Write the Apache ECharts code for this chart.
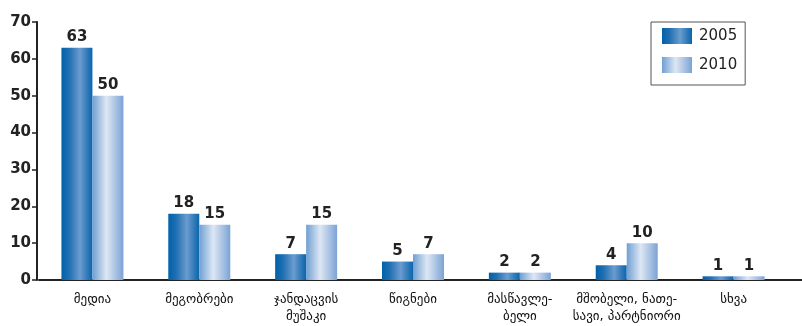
<!DOCTYPE html>
<html><head><meta charset="utf-8">
<script src="https://cdn.jsdelivr.net/npm/echarts@6/dist/echarts.min.js"></script>
<style>html,body{margin:0;padding:0;background:#fff}#c{width:802px;height:326px}</style>
</head><body><div id="c"></div>
<script>
const categories = ["მედია", "მეგობრები", "ჯანდაცვის\nმუშაკი", "წიგნები", "მასწავლე-\nბელი", "მშობელი, ნათე-\nსავი, პარტნიორი", "სხვა"];
const seriesNames = ["2005", "2010"];
const values2005 = [63, 18, 7, 5, 2, 4, 1];
const values2010 = [50, 15, 15, 7, 2, 10, 1];
const yTicks = {min: 0, max: 70, interval: 10};

const font = "DejaVu Sans";
const grad2005 = new echarts.graphic.LinearGradient(0,0,1,0,[
  {offset:0,color:'#0061a9'},{offset:0.25,color:'#1f6fb2'},{offset:0.6,color:'#6b9ccf'},{offset:0.85,color:'#2d78b8'},{offset:1,color:'#0a66ad'}]);
const grad2010 = new echarts.graphic.LinearGradient(0,0,1,0,[
  {offset:0,color:'#6f9fd2'},{offset:0.45,color:'#dde7f4'},{offset:0.75,color:'#a9c2e3'},{offset:1,color:'#7aa3d5'}]);

const gridLeft = 39, gridRight = 15, gridBottom = 46;
const chart = echarts.init(document.getElementById('c'), null, {renderer:'canvas'});
const labelCfg = {show:true, position:'top', distance:3, fontFamily:font, fontWeight:'bold', fontSize:15, color:'#222'};
chart.setOption({
  animation:false,
  grid:{left:gridLeft, right:gridRight, top:22, bottom:gridBottom},
  legend:{
    orient:'vertical', left:651, top:22, itemWidth:30, itemHeight:16, itemGap:13, icon:'rect',
    borderColor:'#555', borderWidth:1, padding:[6,8,12,11],
    textStyle:{fontFamily:font, fontSize:15, color:'#222', padding:[0,0,0,2]},
    data: seriesNames
  },
  xAxis:{
    type:'category', data:categories,
    axisLine:{lineStyle:{color:'#222', width:2}},
    axisTick:{show:false},
    axisLabel:{fontFamily:font, fontSize:13, color:'#111', margin:11, lineHeight:17, interval:0}
  },
  yAxis:{
    type:'value', min:yTicks.min, max:yTicks.max, interval:yTicks.interval, offset:2,
    splitLine:{show:false},
    axisLine:{show:true, lineStyle:{color:'#222', width:2}},
    axisTick:{show:true, length:5, lineStyle:{color:'#222', width:1.5}},
    axisLabel:{fontFamily:font, fontWeight:'bold', fontSize:15, color:'#222', margin:6}
  },
  series:[
    {name:seriesNames[0], type:'bar', data:values2005, barGap:'0%', barWidth:31, itemStyle:{color:grad2005}, label:labelCfg},
    {name:seriesNames[1], type:'bar', data:values2010, barGap:'0%', barWidth:31, itemStyle:{color:grad2010}, label:labelCfg}
  ]
});
// extend the x-axis baseline to the right edge like the original
const y0 = chart.convertToPixel({yAxisIndex:0}, 0);
chart.setOption({graphic:[{type:'line', shape:{x1:802-gridRight-1, y1:y0, x2:802, y2:y0}, style:{stroke:'#222', lineWidth:2}, silent:true}]});
</script></body></html>
